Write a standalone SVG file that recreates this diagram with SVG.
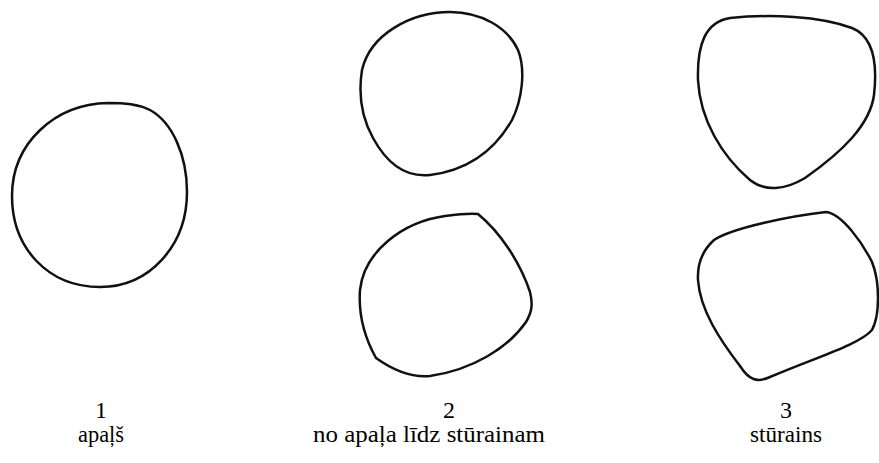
<svg xmlns="http://www.w3.org/2000/svg" width="879" height="463" viewBox="0 0 879 463">
<style>
.s{fill:none;stroke:#111;stroke-width:2.5;stroke-linejoin:round}
</style>
<rect width="879" height="463" fill="#fff"/>
<g id="shape1"><path class="s" d="M 108,103 C 125,103 138,104 150,110 C 172,122 187,155 187,192 C 187,245 150,287 100,287 C 48,287 12,248 12,196 C 12,143 55,104 108,103 Z"/></g>
<g id="shape2a"><path class="s" d="M 450,12 C 482,12 508,28 518,50 C 526,70 522,100 512,120 C 496,148 470,170 430,175 C 402,178 385,160 373,138 C 362,118 358,95 362,70 C 370,35 410,12 450,12 Z"/></g>
<g id="shape2b"><path class="s" d="M 478,214 C 500,232 520,262 530,292 C 533,304 532,312 526,322 C 508,348 472,370 430,376 C 408,378 390,368 376,358 C 366,340 358,318 360,290 C 364,252 402,222 445,216 C 460,214 470,213 478,214 Z"/></g>
<g id="shape3a"><path class="s" d="M 730,18 C 770,14 820,16 852,28 C 872,36 878,60 874,95 C 870,125 842,152 805,178 C 785,190 765,192 750,180 C 722,156 700,120 698,80 C 697,45 705,22 730,18 Z"/></g>
<g id="shape3b"><path class="s" d="M 826,212 C 842,214 862,242 872,262 C 880,282 880,315 872,330 C 860,344 820,356 770,377 C 757,383 749,380 740,366 C 720,340 700,310 698,280 C 697,262 703,250 714,240 C 732,228 790,216 826,212 Z"/></g>
<g id="labels" font-family="Liberation Serif, DejaVu Serif, serif" font-size="24" fill="#000" text-anchor="middle">
<text x="101" y="418">1</text>
<text x="101" y="442" textLength="46" lengthAdjust="spacingAndGlyphs">apaļš</text>
<text x="449" y="418">2</text>
<text x="429" y="442" textLength="232" lengthAdjust="spacingAndGlyphs">no apaļa līdz stūrainam</text>
<text x="786" y="418">3</text>
<text x="786" y="442" textLength="72" lengthAdjust="spacingAndGlyphs">stūrains</text>
</g>
</svg>
